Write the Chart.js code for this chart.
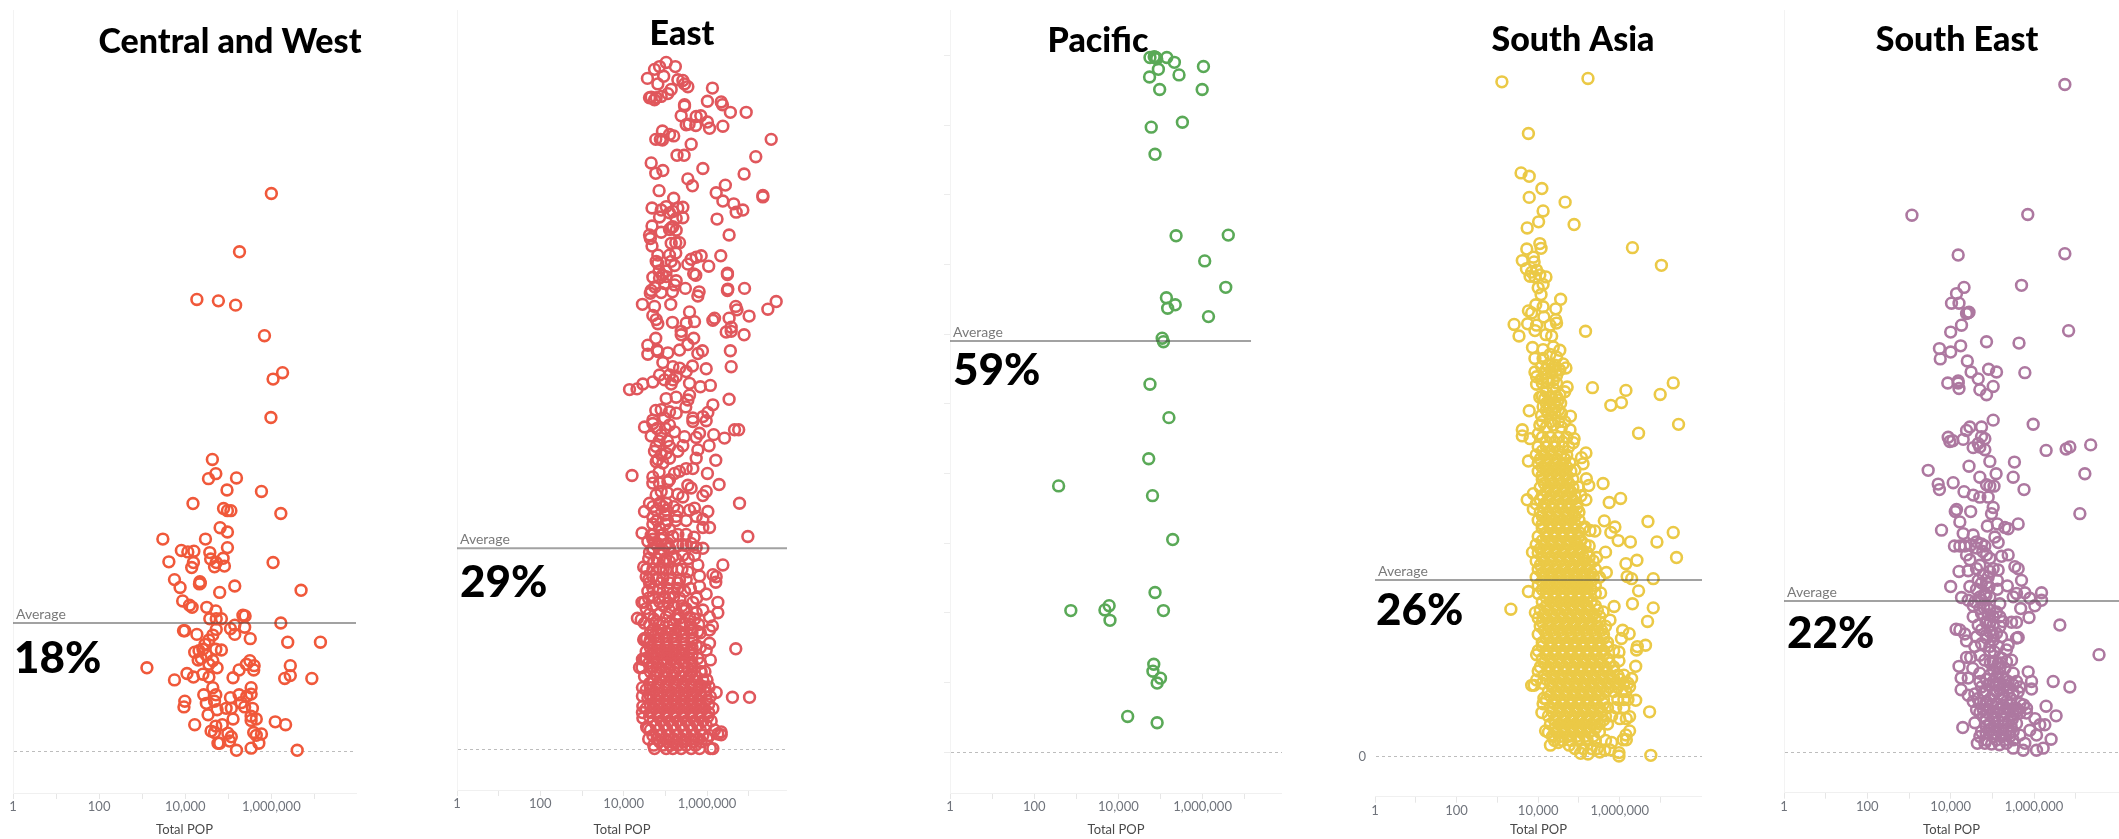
<!DOCTYPE html>
<html>
<head>
<meta charset="utf-8">
<title>Total POP by region</title>
<script src="https://cdn.jsdelivr.net/npm/chart.js@4"></script>
<style>
  html, body { margin: 0; padding: 0; background: #fff; overflow: hidden; }
  body { width: 2119px; height: 839px; position: relative; }
  canvas { position: absolute; top: 10px; }
</style>
</head>
<body>
<script>
// Values. Each row: share in %, then log10(Total POP) of the points at that height.
const regions = ['Central and West', 'East', 'Pacific', 'South Asia', 'South East'];
const averages = [18, 29, 59, 26, 22];
const averageLabel = 'Average';
const axisTitle = 'Total POP';
const tickValues = [1, 10, 100, 1000, 10000, 100000, 1000000, 10000000];
const tickLabels = ['1', '', '100', '', '10,000', '', '1,000,000', ''];

const centralWest = [
  [78.4,6],[70.2,5.26],[63.5,4.27],[63.3,4.77],[62.7,5.17],[58.4,5.84],[53.2,6.26],[52.3,6.04],[46.9,5.99],
  [41,4.63],[39,4.71],[38.3,4.54],[38.4,5.19],[36.7,4.97],[36.5,5.77],[34.8,4.18],[34.1,4.89],[33.8,4.98,5.06],[33.4,6.22],
  [31.4,4.81],[30.8,4.98],[29.8,3.48,4.47],[28.2,3.91],[28,4.06],[28.1,4.2],[28.6,4.98],[27.9,4.57],[27,4.59],[26.5,4.72,6.04,4.19],
  [27.1,4.88],[26.6,3.62],[25.8,4.15],[25.9,4.68],[26,4.91],[24.1,3.75],[23.8,4.34],[23.6,4.35],[23.5,4.33],[23,3.88],[23.2,5.15],
  [22.3,4.8],[22.6,6.69],[21.1,3.94],[20.5,4.1],[20.2,4.16,4.5],[19.7,4.71],[19.1,5.34],[19,5.39],[18.6,4.57,4.72,4.84],[18,6.22],
  [17.7,5.15],[17.2,5.05],[17.4,5.38],[17.1,4.72],[16.9,3.99,3.96],[16.4,4.27,5.15],[16.3,4.64],[15.8,5.51],[15.6,4.55],[15,4.46],
  [15.3,6.38,7.14],[14.3,4.41,4.71],[14.1,4.32],[13.9,4.22],[14.2,4.84],[13.5,4.49],[12.8,4.3],[13,4.37],[12.7,4.64,5.5],[12.2,4.55,5.42],
  [12,5.6,6.44],[11.7,3.11,4.74],[11.4,5.59,5.25],[10.9,4.04],[10.4,4.19,4.55],[10.8,4.41],[10.3,5.11],[10,3.75],[10.2,6.31,6.94],[10.6,6.44],
  [8.9,4.64,5.53],[7.9,4.43,4.71,5.25],[8,5.53],[7.7,5.43],[7.5,5.05],[7,3.99,4.68],[6.2,3.97,5.38],[6.7,4.49],[6.8,5.3],[6,4.95,5.07,5.56],
  [5.8,4.74],[5.1,4.53],[4.5,5.11,5.65],[4.9,5.53],[4.3,5.53],[3.7,4.22,6.33,4.86],[4.1,6.09],[3.5,4.71],[2.8,4.6],[2.6,4.68,5.59],
  [2.4,5.77],[2.2,5.65],[2.5,4.99],[2,5.07],[1.4,5.03],[1.1,4.76,4.8,5.71],[0.4,5.53],[0.1,5.19,6.6]
];

const east = [
  [99.1,5.02],[98.5,5.24,4.86],[98.1,4.74],[96.8,4.57],[97.1,4.96],[96,4.82,5.46],[96.6,5.3],[96.5,5.42],[95.6,5.54],[95.4,6.13],
  [95.2,5.14],[94.6,5.06],[94.2,4.9],[94,4.78,4.62],[94.1,4.66],[93.7,4.74],[93.5,6.01],[93.4,6.34],[93,6.37,5.46],[92.8,5.46],
  [91.9,6.56,6.94],[91.4,5.38,5.85],[91.3,5.74],[90.5,6.01],[90.1,5.5],[90.2,5.57],[90,5.73],[89.6,6.06],[89.9,6.38],[89.2,4.93],
  [88.7,5.1],[88.5,5.2],[88,4.77,4.88,7.54],[87.9,4.93],[87.3,5.62],[85.5,7.17],[85.7,5.28,5.45],[84.6,4.66],[83.8,5.9],[83.1,4.77],
  [83.5,4.94],[83,6.89],[82.3,5.54],[81.3,5.65],[81.4,6.44],[80.6,4.85],[80.3,6.22],[79.9,7.34],[79.7,7.34],[79.5,5.2],[79.1,6.38],
  [78.7,6.64],[78.1,4.68,5.3],[77.8,4.9,6.86],[78.3,5.02],[78.2,5.42],[77.6,5.18],[77.4,5.1],[77.5,6.7],[76.8,4.86],[76.7,5.42],
  [76.6,5.26],[76.5,6.24],[75.5,4.68],[75.4,5.18],[75,5.1],[74.6,4.9],[74.9,5.26],[74.2,4.62,6.53],[73.7,4.64],[73,5.14],[73.1,5.34,5.25],
  [72.6,4.68],[71.3,4.82,5.1],[71.6,5.25],[71.2,5.86,6.33],[71,5.74],[70.7,5.62],[70,5.54],[70.4,4.78,5.14],[70.1,4.82],[69.8,5.22],[69.7,6.04],
  [68.6,5.68],[68.4,5.73,4.93],[68.7,6.49],[68.5,6.49],[68.1,4.7],[68,4.86],[68.2,5.02],[67.6,5.26],[67,5.22],[67.2,4.98],[66.5,5.48,6.9],
  [66.4,6.5],[66.2,6.49,4.66],[66,5.81,5.17],[65.8,4.64],[65.9,4.9],[65.4,5.78],[64.2,4.45,5.13],[63.9,4.74,6.69],[64.6,7.66],[63.5,7.46],
  [63.4,6.72],[63.1,5.58],[62.6,4.7],[62,4.78],[61.4,4.82],[61.6,5.17],[62.5,7.01],[62.2,6.53,6.18],[61.9,6.14],[61.7,5.7],[61.5,5.5],
  [60.9,6.58],[60.2,6.46],[60.3,6.58,5.38],[59.8,6.89,5.38],[59.3,4.77,5.68],[58.3,4.58],[58.4,5.54],[57.6,4.8,5.34],[57,4.58],[57.2,5.06],
  [57.4,4.82],[57.5,5.89,6.56],[57.1,5.78],[55.8,4.94],[55.2,6.58,5.18],[54.9,5.98],[55.3,5.65],[55,5.34],[54,4.86,5.1],[53.8,5.26],[54.5,5.5],
  [53,4.7],[53.3,4.98,5.18],[51.9,4.14],[52,4.32],[52.7,4.46,5.14],[52.8,5.58],[52.3,5.84],[52.5,6.08],[50.5,6.53],[50.6,5.02],[50.8,5.26],
  [51.1,5.58],[50.4,5.54],[49.7,6.14],[49.4,5.49],[48.9,4.77],[48.7,5.1],[48.6,6.02],[48.5,5.26],[48,5.9],[47.8,5.66,4.98],[47.5,4.7],
  [46.5,4.5],[47,4.7],[46.8,5.1],[47.4,5.98],[47.3,5.66],[46.1,6.66,6.76],[44.9,6.42],[45.4,6.16,4.9],[45.2,4.66],[45.8,5.22],[45.1,5.46],
  [45.6,5.82],[45,5.74],[43.8,6.05,5.42],[43.7,4.78,5.1],[43,4.74,5.3],[42.7,5.02],[43.2,5.78],[41.8,4.82],[42,5.1,5.74],[41.7,6.21],[41.3,4.94],
  [41.5,4.78],[40.5,5.5,5.66],[39.8,6.01,5.22],[40.1,5.34],[39.5,4.2],[39.3,4.7],[38.9,5.1],[38.2,6.29],[38.4,4.7,4.86],[38.6,5.06],[38.1,5.54],
  [37.7,5.62],[36.8,5.3],[36.4,5.42],[37.2,5.98,4.9],[36.6,5.9],[36.7,4.78],[35.5,6.78,4.62,4.86,5.02],[34.3,4.5,6.02],[34.5,4.78,5.02,5.3,5.58],
  [34.8,5.7],[33.5,4.7],[33.6,5.26,5.74],[33.8,4.98],[33.2,5.9],[32,5.9,6.06],[31.9,4.86],[31.7,5.1],[30.7,6.98,5.18],[31.2,4.44],[30.9,4.66,4.9],
  [30.6,5.69],[30,4.58],[29.8,4.74],[29.7,5.06,5.62],[29.5,5.42],[29,5.9,4.7,5.1],[29.1,5.74],[28.4,4.62],[28.3,4.86],[28,5.42,5.7],[27.8,5.18],
  [27.1,5.1],[26.6,6.38,5.78],[26.3,4.48],[26.1,4.86],[25.9,5.02,5.3],[25.6,5.54],[25.2,6.14],[24.9,6.22,4.7,4.54],[24.1,6.21],[25,5.82],[24.7,4.94],
  [24.4,5.34],[24,4.62,4.9,5.3],[23.5,5.82],[22.8,4.58,5.46],[22.5,5.18],[22.4,5.98],[23,4.86],[21.2,6.26,4.44,4.5,5.66],[21.3,4.86],[21.1,5.06],
  [20.3,4.54,5.5],[20.1,5.9],[19.7,6.26,5.74],[19.1,6.06,5.02,5.58],[18.9,4.33,5.34],[18.7,4.42],[18.2,4.5,4.94,5.1,5.46],[18.4,4.78],[17.8,6.13],
  [17.2,6.06,4.7,4.9,5.14,5.62],[17,5.34,5.78],[16.3,4.74,4.98,5.18,5.42],[16,5.66],[15.8,4.48],[15.3,6.06,4.62,4.82],[14.5,6.69],[14.3,5.98],
  [15.2,5.02,5.22,5.46],[15,5.74],[14.1,4.54,4.74,4.94,5.14,5.34,5.58],[12.9,6.08,4.94,5.14],[13.1,4.54,4.74,5.78],[13,5.34,5.58],
  [11.8,4.38,4.44,5.54],[11.9,4.7],[11.7,4.9,5.1,5.3],[11.2,5.86],[10.5,5.74,4.98,5.38],[10.7,4.78,5.18,5.58],[9.5,4.62,4.82,5.22,5.42,5.62],
  [9.3,5.02,5.82],[8.2,6.22],[7.5,6.61,7.02],[8.6,4.54],[8.3,4.74,4.94,5.14,5.34,5.54,5.74,5.94],[7.6,6.08],[6.2,4.46],[7.4,4.58],
  [7.1,4.78,4.98,5.18,5.38,5.58,5.78,5.98],[5.9,4.54,4.74,4.94,5.14,5.34,5.54,5.74,5.94,6.14],[4.5,4.46],
  [4.7,4.62,4.82,5.02,5.22,5.42,5.62,5.82,6.02],[3,4.58],[3.5,4.78,4.98,5.18,5.38,5.58,5.78,5.98],[2.8,6.18],[2.5,6.34],[2.1,6.34],[2.2,6.26],
  [2,4.7,4.9,5.1,5.3,5.5,5.7,5.9,6.06],[1.1,4.86,5.06,5.26,5.46,5.66,5.86],[0.1,4.74,5.02,5.18,5.38,5.62,5.82,6.08,6.14],
  // the solid block at the foot of the panel
  [19.5,4.62,4.84,5.3],[18,4.62,4.84,5.2,5.4,5.6,5.8],[16.8,4.64,4.84,5.04,5.24,5.44,5.64,5.84],[15.8,4.64,4.84,5.04,5.24,5.44,5.64],[14.7,4.64,4.84,5.04,5.24,5.44,5.64,5.84],
  [13.6,4.64,4.84,5.04,5.24,5.44,5.64],[12.4,4.6,4.8,5.04,5.24,5.44,5.64,5.84],[11.2,4.64,4.8,5,5.2,5.44,5.64,5.84,5.95],[10,4.7,4.9,5.1,5.3,5.5,5.7,5.9,6],
  [8.9,4.45,4.64,4.84,5.04,5.24,5.44,5.64,5.84],[7.7,4.45,4.64,4.84,5.04,5.24,5.44,5.64,5.84],[6.5,4.64,4.84,5.04,5.24,5.44,5.64,5.84,6.04],
  [5.3,4.45,4.64,4.84,5.04,5.24,5.44,5.64,5.84,6.04],[4.1,4.7,4.9,5.1,5.3,5.5,5.7,5.9,6.1],[2.8,4.64,4.84,5.04,5.24,5.44,5.64,5.84],
  [1.5,4.6,4.8,5,5.2,5.4,5.6,5.8,6],[0.6,4.72,4.94,5.12,5.3,5.5,5.72],[16,4.5,4.55],[13,4.45,4.5],[10.5,4.5],[9,5.95,6.05],[3.2,4.55],
  // looser clumps higher up
  [22,4.7,4.98,5.2],[24,5.1],[26,4.7],[27,4.72,4.95],[28.7,4.7,4.95],[30.3,4.7,4.9],[32.5,4.7,5],[35,4.7,4.95,5.2],[37,5.05],[40,4.85],[42.5,4.9],[44.5,4.85,5.05],
  [46.3,4.8,5],[49,4.9],[69,4.85,5.02],[75.3,5.15],[66.7,4.75],
  [33,4.8,5.05,5.25,5.5],[31,4.72,4.95,5.3,5.5],[29.4,4.8,5,5.3,5.5],[27.5,4.6,4.8,5,5.25,5.55],[26,4.55,4.95,5.15,5.4],[24.5,4.6,4.8,5.1,5.5],[23.2,4.7,5.05,5.3,5.6],
  [21.8,4.6,4.85,5.1,5.35,5.75],[20.7,4.7,4.95,5.2,5.4],[20,5.1,5.45],[18.8,4.72,5.25,5.7]
];

const pacific = [
  [99.7,4.75,4.89,5.15],[99.8,4.85],[99.5,4.91],[99,5.33],[98.4,6.02],[98,4.95],[97.2,5.44],[96.9,4.74],[95.1,4.98,5.99],[90.4,5.52],[89.7,4.78],
  [85.8,4.87],[74.1,5.37],[74.2,6.61],[70.5,6.05],[66.7,6.55],[65.2,5.14],[64.2,5.35],[63.7,5.17],[62.5,6.14],[59.4,5.04],[58.9,5.07],[52.8,4.75],
  [48,5.2],[42.1,4.72],[38.2,2.58],[36.8,4.81],[30.5,5.29],[22.9,4.87],[20.3,2.87,5.07],[21,3.78],[20.4,3.68],[18.9,3.8],[12.6,4.84],[11.6,4.82],
  [10.6,5],[9.9,4.92],[5.1,4.22],[4.2,4.92]
];

const southAsia = [
  [99.3,3.11],[99.8,5.22],[91.7,3.76],[85.9,3.58],[85.4,3.78],[83.6,4.09],[82.3,3.78],[81.6,4.66],[80.3,4.12],[78.7,4.01],[78.3,4.88],[77.8,3.73],
  [75.5,4.04],[74.8,4.07],[74.7,3.72],[74.9,6.31],[72.3,7.02],[73,3.61],[73.5,3.88],[72.8,3.9],[71.8,3.71],[71.3,3.84],[71.6,3.96],[70.6,4.19,3.92],
  [70.7,3.8],[70.9,4.04],[69.5,4.12],[69,4],[68,4.07],[67.3,4.55],[66.5,3.94],[66.2,4.12],[65.9,4.43],[65.6,3.76],[65.3,3.84],[64.7,4.14],[64.3,4.43],
  [63.8,4.45],[63.6,3.41],[63.7,3.74],[63.5,3.96,4.29],[62.7,3.92],[62.6,5.16],[61.9,3.53,4.33],[62.1,4.19],[60.2,3.86],[59.9,4.12],[60.3,4.37],[59.8,4.53],
  [58.6,3.92,4.12],[59.2,4.29],[58.8,4.45],[57.8,4.61],[57.2,4.68],[56.6,3.92],[57.4,4.08],[57.6,4.24,4.41],[56.9,4.53],[56.4,4.16],[56.5,4.33],[56.1,4.45],
  [55.9,3.96],[55.6,4.08,4.24],[55.4,4.37],[54.8,3.96],[54.4,4.71],[54.3,5.33],[53.9,6.15],[55,7.31],[53.3,6.99],[52.1,6.04],[51.7,5.78],[52.9,4.04,4.33],
  [53.7,4.2,4.65],[54.2,4.37],[53.2,4.53],[52.7,4.16],[52.5,4.49],[50.9,3.78],[50.1,4.79],[51.5,4.12,4.45],[51.7,4.29],[50.2,4.08],[50.5,4.24,4.41,4.57],
  [57,4.2,4.35,4.5],[55,4.1,4.25,4.45],[53,4.1,4.3,4.45],[52,4.2,4.4,4.55],[51,4.2,4.35,4.5],[49.3,4.1,4.3,4.5,4.65],
  [48.9,7.44],[47.6,6.46],[48.1,3.61,4.78],[47.2,3.61],[46.8,3.8,4.88],[48.8,4.04,4.37],[47.5,4],[48.5,4.2,4.57],[46.2,4.86],
  [47,4.1,4.3,4.5,4.7],[45.6,4,4.2,4.4,4.6,4.75],[44.4,3.95,4.15,4.35,4.55,4.7],[43.2,4,4.2,4.4,4.6,4.78],[42,4,4.2,4.4,4.6,4.8],
  [40.8,4.1,4.3,4.5,4.7,4.85],[39.6,4.05,4.25,4.45,4.65,4.85],[38.4,4.1,4.3,4.5,4.7,4.9,5.05],[37.2,3.95,4.15,4.35,4.55,4.75,4.95],
  [36,4.05,4.25,4.45,4.65,4.85,5],[34.8,4,4.2,4.4,4.6,4.8,5],[33.6,4.1,4.3,4.5,4.7,4.9,5.1],[32.4,4,4.2,4.4,4.6,4.8,5],
  [31.2,3.95,4.15,4.35,4.55,4.75,4.95,5.15],[30,4,4.2,4.4,4.6,4.8,5,5.2],[28.8,3.95,4.15,4.35,4.55,4.75,4.95,5.15,5.35],
  [27.6,4,4.2,4.4,4.6,4.8,5,5.2,5.4],[26.4,3.95,4.15,4.35,4.55,4.75,4.95,5.15,5.35,5.5],[25.2,4,4.2,4.4,4.6,4.8,5,5.2,5.4],
  [24,4,4.2,4.4,4.6,4.8,5,5.2,5.4],[22.8,4.1,4.3,4.5,4.7,4.9,5.1,5.3],[21.6,4.05,4.25,4.45,4.65,4.85,5.05,5.25,5.45],
  [20.4,4,4.2,4.4,4.6,4.8,5,5.2,5.4],[19.2,4.05,4.25,4.45,4.65,4.85,5.05,5.25,5.45,5.65],[18,4,4.2,4.4,4.6,4.8,5,5.2,5.4,5.6],
  [16.8,4.1,4.3,4.5,4.7,4.9,5.1,5.3,5.5,5.7],[15.6,4,4.2,4.4,4.6,4.8,5,5.2,5.4,5.6,5.85],[14.4,4.1,4.3,4.5,4.7,4.9,5.1,5.3,5.5,5.7],
  [13.2,4.05,4.25,4.45,4.65,4.85,5.05,5.25,5.45,5.65,5.85],[12,4.15,4.35,4.55,4.75,4.95,5.15,5.35,5.55,5.75,5.95,6.1],
  [10.8,4.1,4.3,4.5,4.7,4.9,5.1,5.3,5.5,5.7,5.9,6.1,6.2],[9.6,4.25,4.45,4.65,4.85,5.05,5.25,5.45,5.65,5.85,6.05,6.15],
  [8.4,4.2,4.4,4.6,4.8,5,5.2,5.4,5.6,5.95,6.1,6.2],[7.2,4.3,4.5,4.7,4.9,5.1,5.3,5.5,5.7,5.9,6.1],[6,4.25,4.45,4.65,4.85,5.05,5.25,5.45,5.65,5.8],
  [4.8,4.3,4.5,4.7,4.9,5.1,5.3,5.5,5.7],[3.6,4.25,4.45,4.65,4.85,5.05,5.25,5.5],[2.4,4.4,4.6,4.8,5,5.2,5.4,5.65],[1.2,4.9,5.1,5.3,5.45],
  // the solid block, second layer between the rows above
  [46.3,4.2,4.4,4.6],[45,4.1,4.3,4.5],[43.8,4.05,4.25,4.45,4.65],[42.6,4.1,4.3,4.5,4.7],[41.4,4.1,4.3,4.5,4.7],[40.2,4.15,4.35,4.55,4.75],[39,4.2,4.4,4.6,4.8],
  [37.8,4.05,4.25,4.45,4.65,4.85],[36.6,4.15,4.35,4.55,4.75,4.95],[35.4,4.1,4.3,4.5,4.7,4.9],[34.2,4.1,4.3,4.5,4.7,4.9],[33,4.2,4.4,4.6,4.8,5],
  [31.8,4.1,4.3,4.5,4.7,4.9,5.05],[30.6,4.05,4.25,4.45,4.65,4.85,5.05],[29.4,4.1,4.3,4.5,4.7,4.9,5.1,5.25],[28.2,4.05,4.25,4.45,4.65,4.85,5.05,5.25],
  [27,4.1,4.3,4.5,4.7,4.9,5.1,5.3],[25.8,4.1,4.3,4.5,4.7,4.9,5.1,5.3],[24.6,4.1,4.3,4.5,4.7,4.9,5.1,5.3],[23.4,4.2,4.4,4.6,4.8,5,5.2],
  [22.2,4.2,4.4,4.6,4.8,5,5.2,5.4],[21,4.15,4.35,4.55,4.75,4.95,5.15,5.35],[19.8,4.1,4.3,4.5,4.7,4.9,5.1,5.3,5.5],[18.6,4.15,4.35,4.55,4.75,4.95,5.15,5.35,5.55],
  [17.4,4.2,4.4,4.6,4.8,5,5.2,5.4,5.6],[16.2,4.1,4.3,4.5,4.7,4.9,5.1,5.3,5.5,5.7],[15,4.2,4.4,4.6,4.8,5,5.2,5.4,5.6],[13.8,4.15,4.35,4.55,4.75,4.95,5.15,5.35,5.55,5.75],
  [12.6,4.25,4.45,4.65,4.85,5.05,5.25,5.45,5.65,5.85],[11.4,4.2,4.4,4.6,4.8,5,5.2,5.4,5.6,5.8,6],[10.2,4.35,4.55,4.75,4.95,5.15,5.35,5.55,5.75,5.95],
  [9,4.3,4.5,4.7,4.9,5.1,5.3,5.5],[7.8,4.4,4.6,4.8,5,5.2,5.4,5.6],[6.6,4.35,4.55,4.75,4.95,5.15,5.35,5.55],[5.4,4.4,4.6,4.8,5,5.2,5.4,5.6],
  [4.2,4.4,4.6,4.8,5,5.2,5.4],[3,4.35,4.55,4.75,4.95,5.15,5.35],
  [43.5,3.76],[44.7,5.17],[44,5.06],[43.1,5.1],[42.2,4.9],[40.9,5.18],[40.2,5.59],[39.9,5.24],[39.7,4.98],[38,6.02],[37.4,5.74],[37.8,3.73,5.17],[38.7,3.88],
  [36.4,3.88],[34.7,5.62],[34.6,6.69],[33,7.31,5.78],[33.8,5.88,5.14],[33.2,5.39],[33.3,5.27],[31.8,5.96],[31.6,6.26,6.91],[29.3,7.39,5.43],[30.1,5.65,3.86],
  [31,5.25],[28.9,6.42],[28.4,6.15],[27.1,5.67],[26.5,6.18],[26.2,6.29,6.82],[24.1,5.53],[24.4,6.46],[24.3,3.76],[21.7,3.33],[22.5,6.31],[22.1,5.86],[21.9,6.82],
  [21.2,3.93],[21.3,5.59],[19.9,6.68],[20.1,5.76],[20.6,5.51],[18.6,6.07],[18.1,6.23],[17.4,6.04],[16.4,6.63],[15.7,6.41],[16.2,6.43],[15,3.96],[13.3,6.39],
  [14.1,5.98],[15.4,5.98],[12.6,4],[11.5,6.29],[10.5,3.9,3.84],[11.3,3.96],[10.3,6.24],[8.3,6.39],[8.6,4.14],[7.8,4.12],[6.5,4.09],[6.6,6.73],[5.9,6.24],
  [5.6,6.16,6],[3.8,6.24,4.18],[3.2,6.15],[2.5,6.08,6.16],[1.7,4.3,4.76],[2.1,4.49,5.8],[1,5.63,5.76],[0.6,5.98],[0.1,5.98],[0.2,6.76],[0.5,5.04],[0.4,5.22],[0.7,5.51]
];

const southEast = [
  [97.1,6.74],[78.1,3.07],[78.2,5.85],[72.3,4.18],[72.5,6.74],[67.9,5.7],[67.6,4.32],[66.7,4.14],[65.3,4.02,4.2],[64,4.44],[63.8,4.38],[63.9,4.42],[62.1,4.26],
  [61.1,4],[61.3,6.83],[59.7,4.86],[59.5,5.64],[59.1,4.24],[58.7,3.73],[58.2,4],[57.2,3.75],[56.9,4.4],[55.3,4.49,5.1],[55.7,4.91],[55.2,5.78],[54.3,4.66],
  [53.7,3.93,4.18],[54,4.18],[52.9,4.2],[53.2,5.02],[52.7,4.7],[52,4.86],[48.3,5.02],[47.7,5.98],[47.3,4.46,4.74],[46.8,4.38],[45.8,3.94],[45.5,4.3],[45.2,3.98],
  [45.3,4.05],[45.9,4.74],[45.6,4.82],[44.9,4.66],[44.7,7.36],[44.4,6.86,4.7],[44.1,6.77],[43.9,6.29],[44.3,4.54],[44,4.82],[42.3,4.94],[42.2,5.53],[41,3.46],
  [41.6,4.44],[40.5,7.22,5.09],[40,4.7,5.5],[39,3.7],[38.2,3.73,5.76],[39.2,4.06],[38.9,4.86],[38.7,4.94,5.04],[37.9,4.32],[37.4,4.54],[37.1,4.7,4.9],[35.6,5.02],
  [34.7,4.98,7.1],[35.3,4.14],[35,4.11,4.48],[33.5,4.22],[32.3,3.78],[32.9,4.88],[33.2,5.12,5.62],[32.7,5.3],[32.5,5.38],[31.8,4.3],[31.6,4.54],[31.3,5.06],[30.5,5.14],
  [30,4.09,4.22,4.34,4.82],[30.1,4.48],[30.6,4.62],[30.3,4.74],[29.7,4.62],[29.2,4.77],[28.7,4.38,4.86,5.38],[28.2,4.94],[28.5,5.22],[28,4.46],[27.2,4.7],[26.7,4.62,5.62,5.02],
  [27,5.54],[26.3,4.2,4.94],[26.4,4.42],[26.5,5.14],[25.8,4.78],[25.5,4.9],[25,4.66,5.12,5.7],[24.6,4.74,4.86],[24.2,5.36],[24.1,4,4.46],[23.7,4.62,5.12],[23.2,6.18,5.78],
  [23.1,5.58,4.82],[22.6,5.5,4.94,4.7],[22.5,4.26],[22.1,4.42,4.74,6.18],[21.9,4.58],[22.4,5.9],[21.6,5.18],[21.3,6.02,4.54],[20.9,4.7,5.68],[20.7,4.94],[20.4,5.1],
  [19.7,4.54,5.02,5.18],[20.2,4.74],[20,4.9],[19.6,5.88],[19,5.26],[18.9,5.46,5.58],[18.5,6.62,4.66,5.02],[18.8,4.86],[18.3,5.18],[17.9,4.13],[17.8,4.22,4.74],[17.2,4.34],
  [17.5,4.94],[17.3,5.1],[16.7,5.62],[16.6,5.58,4.86],[16.2,4.38],[16.8,4.62,5.22],[16.3,5.02],[15.6,5.38],[14.9,5.34],[15.4,4.58,4.94,5.14],[15.8,4.74],[14.2,7.56],
  [13.8,4.38,4.48],[13.4,4.82,5.46],[14.1,4.7],[13.7,5.22],[13.2,5.34,5.02],[12.9,5.14],[12.5,4.2],[12.2,4.53,5.18,5.3],[12,5.02],[11.7,5.86],[11.5,4.7,5.5,5.14],[11.2,4.94],
  [10.8,4.25,4.42],[10.3,6.46,5.94,5.58,5.38,4.7,5.02],[9.5,6.86,5.66,4.74],[10,5.18],[9.1,4.25,5.18],[9.2,5.94],[9.3,5.38],[8.3,4.42,5.02,5.26],[8.5,4.58],[8.6,4.78,5.5],
  [8.8,5.62],[7.4,4.54,4.86,5.34],[7.1,4.7,5.1,5.66],[6.7,6.29],[6.4,5.82,5.58,5.18],[6.2,4.62,4.78,4.94,5.38],[5.3,6.53],[5.7,5.82,5.66],[5.2,4.78,5.02],[5.4,5.22,5.5],[4.3,4.58],
  [3.6,4.29],[4.9,6.02],[4.2,4.94,5.58],[4.5,5.14,5.38],[4,6.26,6.14],[3.2,5.9,4.94,5.14,5.34],[2.5,6.06,5.66],[3,4.74,5.5],[2.3,4.7,5.02,5.22,5.42],[1.9,6.41],
  [1.3,4.64,4.82,5.34,5.78],[1.2,4.98],[1.1,5.17],[0.6,5.5,6.22],[0.3,5.74,6.06],
  // thicker part of the column
  [11,5.1,5.25],[10.6,4.85,5.3],[9.8,4.9,5.1,5.3,5.5],[8.8,4.85,5.1,5.38],[7.8,4.65,4.95,5.2,5.45],[6.9,4.85,5,5.25,5.45,5.75],[5.8,4.7,4.88,5.1,5.3],
  [4.8,4.85,5.05,5.28,5.48],[3.8,4.85,5.05,5.25,5.45],[2.8,4.85,5.05,5.25,5.42],[1.8,4.85,5.1,5.3,5.5],[13,4.95,5.2],[14.6,4.95,5.05],[17,4.85,5.02],[19,4.85,4.95],
  [21,4.8,4.88],[22.8,4.85],[24,4.92],[6,5.6,5.5]
];

const seriesRows = [centralWest, east, pacific, southAsia, southEast];
const averageEnds = [8.1, 8.1, 7.15, 8.1, 8.1];

// page layout of the five panels, in px
const colors = ['#f0583a', '#e0575c', '#5aa957', '#ebc946', '#ad78a0'];
const canvasLeft = [0, 432, 925, 1350, 1759];
const plotLeft = [13, 457, 950, 1375, 1784];
const plotRight = [356, 787, 1282, 1702, 2119];
const rightRoom = [12, 0, 0, 0, 0]; // the first title runs past its plot
const decadeWidth = [43.06, 41.67, 42.1, 40.8, 41.67];
const zeroY = [751, 749.3, 752, 756.7, 752.3];
const averageY = [623, 548.3, 341, 580, 601];
const axisBottom = [793, 790, 793, 796.7, 792.7];
const titleCenter = [230, 682, 1098, 1573, 1957];
const titleY = [42, 34, 41, 40, 40];
const percentLeft = [14, 460, 953, 1376, 1787];
const percentOffset = [36, 35, 30, 31, 33];
const canvasTop = 10;
const canvasBottom = 839;

function rowsToPoints(rows) {
    const points = [];
    rows.forEach(row => {
        row.slice(1).forEach(logPop => points.push({ x: Math.pow(10, logPop), y: row[0] }));
    });
    return points;
}

// region title, "Average" and the big percent, placed from the scales
const panelText = {
    id: 'panelText',
    afterDatasetsDraw(chart, args, opts) {
        const ctx = chart.ctx;
        const i = opts.index;
        const y = chart.scales.y.getPixelForValue(averages[i]);
        const left = canvasLeft[i];
        ctx.save();
        ctx.textBaseline = 'middle';
        ctx.fillStyle = '#000';
        ctx.font = '900 34px Lato';
        ctx.textAlign = 'center';
        ctx.fillText(regions[i], titleCenter[i] - left, titleY[i] - canvasTop);
        ctx.textAlign = 'left';
        ctx.font = '900 44px Lato';
        ctx.fillText(averages[i] + '%', percentLeft[i] - left, y + percentOffset[i]);
        ctx.fillStyle = '#7a7a7a';
        ctx.font = '14px Lato';
        ctx.fillText(averageLabel, plotLeft[i] - left + 3, y - 9);
        ctx.restore();
    }
};

regions.forEach((region, i) => {
    const canvas = document.createElement('canvas');
    canvas.width = plotRight[i] + rightRoom[i] - canvasLeft[i];
    canvas.height = canvasBottom - canvasTop;
    canvas.style.left = canvasLeft[i] + 'px';
    document.body.appendChild(canvas);

    const pxPerPct = (zeroY[i] - averageY[i]) / averages[i];
    const xMax = Math.pow(10, (plotRight[i] - plotLeft[i]) / decadeWidth[i]);
    const isPacific = i === 2;
    const isSouthAsia = i === 3;

    new Chart(canvas, {
        type: 'scatter',
        data: {
            datasets: [
                {
                    label: region,
                    data: rowsToPoints(seriesRows[i]),
                    backgroundColor: 'transparent',
                    borderColor: colors[i],
                    borderWidth: 2.6,
                    pointRadius: 5.4,
                    order: 1
                },
                {
                    label: averageLabel,
                    data: [{ x: 1, y: averages[i] }, { x: Math.pow(10, averageEnds[i]), y: averages[i] }],
                    showLine: true,
                    borderColor: 'rgba(70,70,70,0.5)',
                    borderWidth: 2,
                    pointRadius: 0,
                    order: 0
                }
            ]
        },
        options: {
            responsive: false,
            animation: false,
            layout: { padding: { right: rightRoom[i] }, autoPadding: false },
            plugins: {
                legend: { display: false },
                tooltip: { enabled: false },
                panelText: { index: i }
            },
            scales: {
                x: {
                    type: 'logarithmic',
                    min: 1,
                    max: xMax,
                    afterBuildTicks: scale => { scale.ticks = tickValues.map(v => ({ value: v })); },
                    afterFit: scale => {
                        scale.height = canvasBottom - axisBottom[i];
                        scale.paddingLeft = 0;
                        scale.paddingRight = 0;
                    },
                    grid: { drawOnChartArea: false, tickColor: '#e6e6e6', tickLength: 6 },
                    border: { color: '#f0f0f0' },
                    ticks: {
                        autoSkip: false,
                        maxRotation: 0,
                        padding: 0,
                        color: '#70747c',
                        font: { family: 'Lato', size: 13 },
                        callback: value => tickLabels[tickValues.indexOf(value)]
                    },
                    title: {
                        display: true,
                        text: axisTitle,
                        color: '#4a4a4a',
                        font: { family: 'Lato', size: 13 },
                        padding: { top: 0, bottom: 1 }
                    }
                },
                y: {
                    type: 'linear',
                    min: (zeroY[i] - axisBottom[i]) / pxPerPct,
                    max: (zeroY[i] - canvasTop) / pxPerPct,
                    afterFit: scale => {
                        scale.width = plotLeft[i] - canvasLeft[i];
                        scale.paddingTop = 0;
                        scale.paddingBottom = 0;
                    },
                    grid: {
                        color: ctx => ctx.tick.value === 0 ? '#bdbdbd' : 'transparent',
                        tickColor: ctx => isPacific ? '#ececec' : 'transparent',
                        tickLength: 6
                    },
                    border: { color: isSouthAsia ? 'transparent' : '#f3f3f3', dash: [3, 3] },
                    ticks: {
                        stepSize: 10,
                        includeBounds: false,
                        autoSkip: false,
                        padding: 3,
                        color: '#70747c',
                        font: { family: 'Lato', size: 13 },
                        callback: value => (isSouthAsia && value === 0) ? '0' : ''
                    }
                }
            }
        },
        plugins: [panelText]
    });
});
</script>
</body>
</html>
